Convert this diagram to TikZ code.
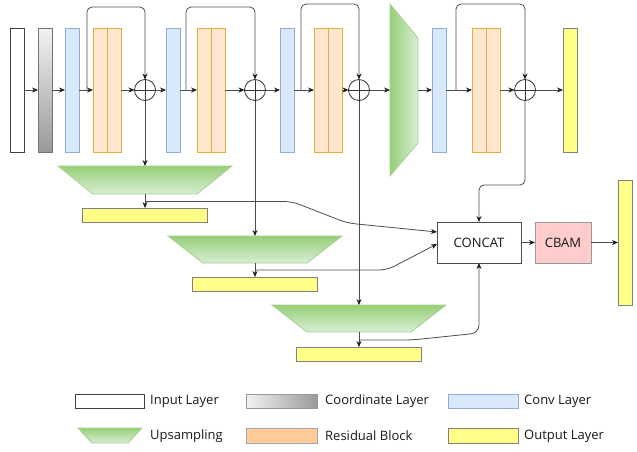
\documentclass[tikz,border=0pt]{standalone}
\usepackage{fontspec}
\setmainfont{Open Sans}
\usetikzlibrary{arrows.meta,calc}
\definecolor{convF}{HTML}{DAE8FC}
\definecolor{convB}{HTML}{8FAEDB}
\definecolor{resF}{HTML}{FFE6CC}
\definecolor{resB}{HTML}{E3AE3C}
\definecolor{resLF}{HTML}{FFCC99}
\definecolor{outF}{HTML}{FFFF88}
\definecolor{greenD}{HTML}{97D077}
\definecolor{greenL}{HTML}{D8EDD5}
\definecolor{greenB}{HTML}{A6D090}
\definecolor{cbamF}{HTML}{FFCCCC}
\begin{document}
\begin{tikzpicture}[x=1pt,y=-1pt,
  box/.style={inner sep=0,outer sep=0,line width=0.9pt,anchor=north west},
  inlayer/.style={box,draw=black!75,fill=white},
  coordlayer/.style={box,draw=black!55,top color=black!5,bottom color=black!40},
  convlayer/.style={box,draw=convB,fill=convF},
  reslayer/.style={box,draw=resB,fill=resF},
  outlayer/.style={box,draw=black!50,fill=outF},
  plus/.style={circle,draw=black!80,line width=0.8pt,minimum size=21pt,inner sep=0,outer sep=0,
    path picture={\draw[black!80,line width=0.8pt] (path picture bounding box.north) -- (path picture bounding box.south)
      (path picture bounding box.west) -- (path picture bounding box.east);}},
  conn/.style={draw=black!70,line width=0.8pt},
  arr/.style={conn,-{Stealth[length=6pt,width=5pt,color=black!90]}},
  txt/.style={font=\fontsize{13}{15}\selectfont,inner sep=0,text=black!90},
  legtxt/.style={txt,anchor=west},
  greenshape/.style={draw=greenB,line width=0.8pt}
]
\useasboundingbox (0,0) rectangle (637,451);

% ---- top row ----
\node[inlayer,minimum width=14,minimum height=124] (in) at (10,28) {};
\node[coordlayer,minimum width=14,minimum height=124] (co) at (38,28) {};
\node[convlayer,minimum width=14,minimum height=124] (c1) at (65,28) {};
\node[reslayer,minimum width=28,minimum height=124] (r1) at (93,28) {};
\node[plus] (p1) at (145,90) {};
\node[convlayer,minimum width=14,minimum height=124] (c2) at (166,28) {};
\node[reslayer,minimum width=28,minimum height=124] (r2) at (197,28) {};
\node[plus] (p2) at (255,90) {};
\node[convlayer,minimum width=14,minimum height=124] (c3) at (280,28) {};
\node[reslayer,minimum width=28,minimum height=124] (r3) at (314,28) {};
\node[plus] (p3) at (359,90) {};
\node[box,minimum width=28,minimum height=172] (g) at (390,4) {};
\shade[greenshape,left color=greenD,right color=greenL] (390,4) -- (418,38) -- (418,143) -- (390,176) -- cycle;
\node[convlayer,minimum width=14,minimum height=124] (c4) at (432,28) {};
\node[reslayer,minimum width=28,minimum height=124] (r4) at (472,28) {};
\node[plus] (p4) at (525,90) {};
\node[outlayer,minimum width=14,minimum height=124] (o1) at (563,28) {};

\foreach \r in {r1,r2,r3,r4}{\draw[resB,line width=0.9pt] (\r.north) -- (\r.south);}

\draw[arr] (in.east) -- (co.west);
\draw[arr] (co.east) -- (c1.west);
\draw[arr] (c1.east) -- (r1.west);
\draw[arr] (r1.east) -- (p1.west);
\draw[arr] (p1.east) -- (c2.west);
\draw[arr] (c2.east) -- (r2.west);
\draw[arr] (r2.east) -- (p2.west);
\draw[arr] (p2.east) -- (c3.west);
\draw[arr] (c3.east) -- (r3.west);
\draw[arr] (r3.east) -- (p3.west);
\draw[arr] (p3.east) -- (g.west);
\draw[arr] (g.east) -- (c4.west);
\draw[arr] (c4.east) -- (r4.west);
\draw[arr] (r4.east) -- (p4.west);
\draw[arr] (p4.east) -- (o1.west);

% skip connections
\coordinate (s1) at (87,90);
\coordinate (s2) at (186,90);
\coordinate (s3) at (301,90);
\coordinate (s4) at (456,90);
\draw[arr,rounded corners=5] (s1) -- (87,7) -| (p1.north);
\draw[arr,rounded corners=5] (s2) -- (186,7) -| (p2.north);
\draw[arr,rounded corners=5] (s3) -- (301,4) -| (p3.north);
\draw[arr,rounded corners=5] (s4) -- (456,4) -| (p4.north);

% ---- upsampling branches ----
\shade[greenshape,top color=greenD,bottom color=greenL] (58,166) -- (232,166) -- (197,194) -- (93,194) -- cycle;
\coordinate (t1n) at (145,166);
\coordinate (t1s) at (145,194);
\node[outlayer,minimum width=125,minimum height=14] (b1) at (82.5,208) {};

\shade[greenshape,top color=greenD,bottom color=greenL] (168,236) -- (342,236) -- (307,263) -- (203,263) -- cycle;
\coordinate (t2n) at (255,236);
\coordinate (t2s) at (255,263);
\node[outlayer,minimum width=125,minimum height=14] (b2) at (192.5,277) {};

\shade[greenshape,top color=greenD,bottom color=greenL] (272,305) -- (446,305) -- (411,332) -- (307,332) -- cycle;
\coordinate (t3n) at (359,305);
\coordinate (t3s) at (359,332);
\node[outlayer,minimum width=125,minimum height=14] (b3) at (296.5,347) {};

\draw[arr] (p1.south) -- (t1n);
\draw[arr] (p2.south) -- (t2n);
\draw[arr] (p3.south) -- (t3n);
\draw[arr] (t1s) -- (b1.north);
\draw[arr] (t2s) -- (b2.north);
\draw[arr] (t3s) -- (b3.north);

% ---- CONCAT / CBAM ----
\node[box,draw=black!70,fill=white,minimum width=84,minimum height=41] (cc) at (437,222) {};
\node[txt] at (cc.center) {CONCAT};
\node[box,draw=black!40,fill=cbamF,minimum width=56,minimum height=41] (cb) at (535,222) {};
\node[txt] at (cb.center) {CBAM};
\node[outlayer,minimum width=14,minimum height=125] (fo) at (618,180) {};

\draw[arr] (cc.east) -- (cb.west);
\draw[arr] (cb.east) -- (fo.west);

\coordinate (j1) at (145,201.5);
\coordinate (j2) at (255,270);
\coordinate (j3) at (359,340);
\draw[arr,rounded corners=8] (j1) -- (292,201.5) -- (347,223) -- ($(cc.west)+(0,-10.5)$);
\draw[arr,rounded corners=8] (j2) -- (387,270) -- ($(cc.west)+(0,1.5)$);
\draw[arr,rounded corners=8] (j3) -- (412,340) -- (479,333) -- (cc.south);
\draw[arr,rounded corners=5] (p4.south) -- (525,185) -| (cc.north);

% ---- legend ----
\node[inlayer,minimum width=69,minimum height=14] (lin) at (75,394) {};
\node[legtxt] (tin) at (150,401.5) {Input Layer};
\node[box,draw=black!40,left color=black!5,right color=black!40,minimum width=71,minimum height=14] (lco) at (246,394) {};
\node[legtxt] (tco) at (325,401.5) {Coordinate Layer};
\node[convlayer,minimum width=70,minimum height=14] (lcv) at (448,394) {};
\node[legtxt] (tcv) at (524,401.5) {Conv Layer};

\shade[greenshape,top color=greenD,bottom color=greenL] (78,428) -- (142,428) -- (128,443) -- (92,443) -- cycle;
\node[legtxt] (tup) at (150,436) {Upsampling};
\node[box,draw=black!35,fill=resLF,minimum width=71,minimum height=15] (lre) at (246,428) {};
\node[legtxt] (tre) at (325,436) {Residual Block};
\node[outlayer,minimum width=70,minimum height=15] (lou) at (448,428) {};
\node[legtxt] (tou) at (524,436) {Output Layer};
\end{tikzpicture}
\end{document}
